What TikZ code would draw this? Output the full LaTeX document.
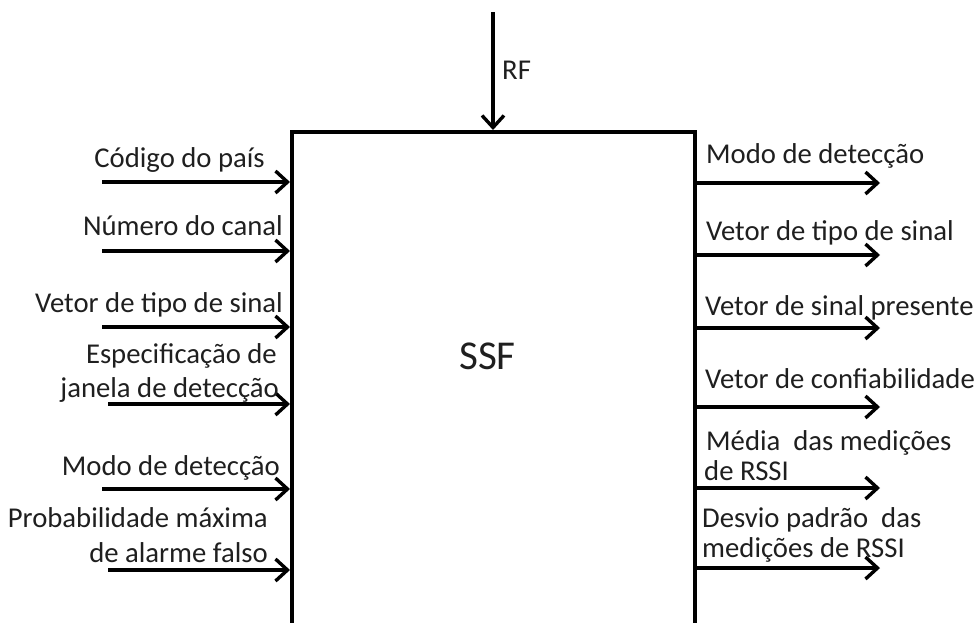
\documentclass[tikz,border=0pt]{standalone}
\usepackage{fontspec}
\setmainfont{Carlito}
\usetikzlibrary{arrows.meta}
\begin{document}
\begin{tikzpicture}[x=1pt,y=-1pt,
  arr/.style={line width=3.5pt,-{Straight Barb[length=12pt,width=22pt,line width=3.4pt]}},
  lbl/.style={font=\fontsize{28.7}{34}\selectfont,text=black!88,inner sep=0pt}]
\useasboundingbox (0,0) rectangle (977,622);
% box (extends below the page)
\node[draw,line width=3.5pt,minimum width=403pt,minimum height=600pt,anchor=north west,inner sep=0pt] (box) at (290,130) {};
\node[font=\fontsize{41}{41}\selectfont,text=black!88,inner sep=0pt,anchor=base west] (ssf) at (459,369) {SSF};
% RF
\coordinate (rf0) at (493,12);
\draw[arr] (rf0) -- (box.north -| rf0);
\node[lbl,anchor=base west] (rflbl) at (502,79) {RF};
% left inputs
\coordinate (l1) at (102,182);
\coordinate (l2) at (102,251);
\coordinate (l3) at (102,327);
\coordinate (l4) at (108,404);
\coordinate (l5) at (102,489);
\coordinate (l6) at (108,570);
\foreach \i in {1,...,6} {\draw[arr] (l\i) -- (box.west |- l\i);}
\node[lbl,anchor=base east] (t1) at (265,167) {Código do país};
\node[lbl,anchor=base east] (t2) at (283,235) {Número do canal};
\node[lbl,anchor=base east] (t3) at (283,312) {Vetor de tipo de sinal};
\node[lbl,anchor=base east] (t4a) at (277,363) {Especificação de};
\node[lbl,anchor=base east] (t4b) at (279,397) {janela de detecção};
\node[lbl,anchor=base east] (t5) at (280,475) {Modo de detecção};
\node[lbl,anchor=base east] (t6a) at (268,527) {Probabilidade máxima};
\node[lbl,anchor=base east] (t6b) at (268,562) {de alarme falso};
% right outputs
\coordinate (r1) at (880,183);
\coordinate (r2) at (880,255);
\coordinate (r3) at (880,328);
\coordinate (r4) at (880,407);
\coordinate (r5) at (880,488);
\coordinate (r6) at (880,568);
\foreach \i in {1,...,6} {\draw[arr] (box.east |- r\i) -- (r\i);}
\node[lbl,anchor=base west] (u1) at (706,163) {Modo de detecção};
\node[lbl,anchor=base west] (u2) at (706,240) {Vetor de tipo de sinal};
\node[lbl,anchor=base west] (u3) at (705,315) {Vetor de sinal presente};
\node[lbl,anchor=base west] (u4) at (705,388) {Vetor de confiabilidade};
\node[lbl,anchor=base west] (u5a) at (706,450) {Média~ das medições};
\node[lbl,anchor=base west] (u5b) at (704,480) {de RSSI};
\node[lbl,anchor=base west] (u6a) at (702,527) {Desvio padrão~ das};
\node[lbl,anchor=base west] (u6b) at (702,557) {medições de RSSI};
\end{tikzpicture}
\end{document}
